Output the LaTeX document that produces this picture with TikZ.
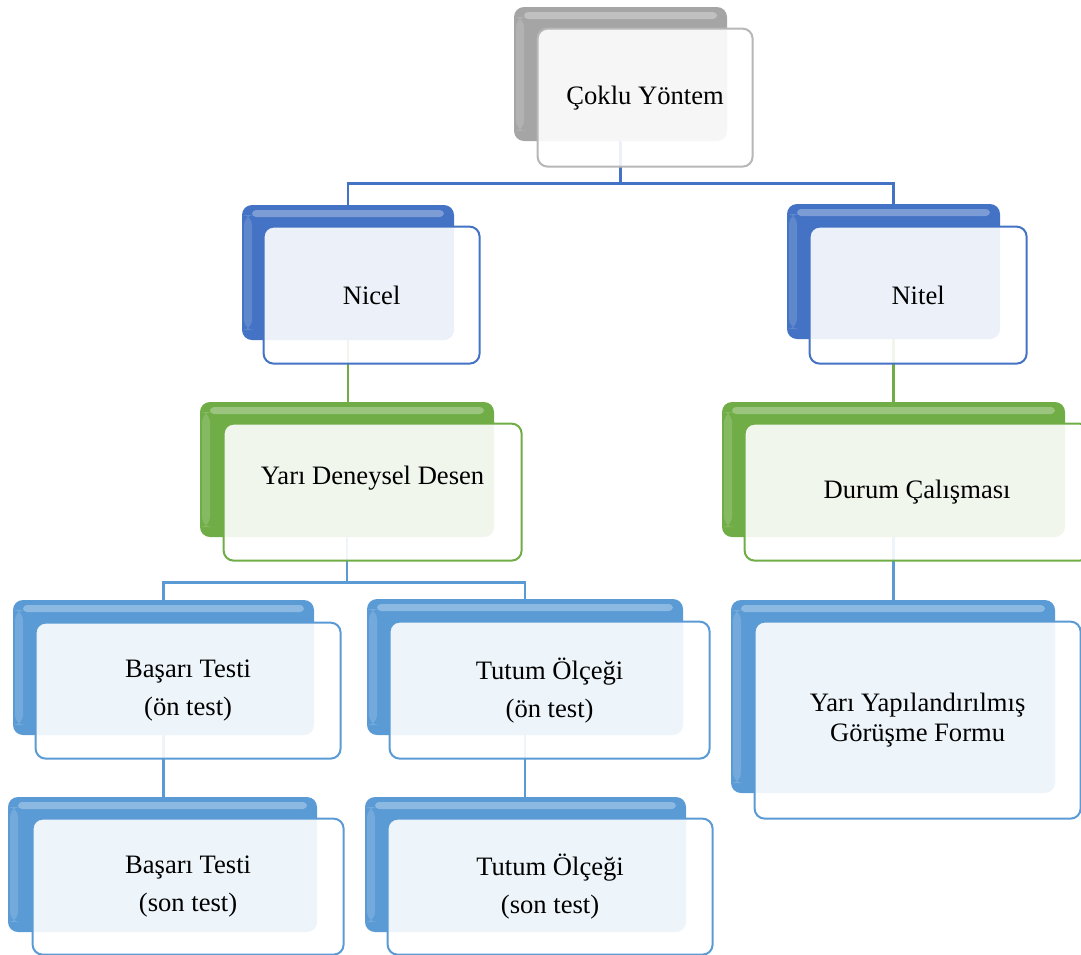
\documentclass[tikz,border=0pt]{standalone}
\usepackage{fontspec}
\setmainfont{Liberation Serif}
\usepackage{tikz}
\definecolor{cgray}{HTML}{A5A5A5}
\definecolor{cblue}{HTML}{4472C4}
\definecolor{cgreen}{HTML}{70AD47}
\definecolor{clblue}{HTML}{5B9BD5}
\pgfdeclarelayer{bg}
\pgfsetlayers{bg,main}

\begin{document}
\begin{tikzpicture}[x=0.5pt,y=-0.5pt,font=\fontsize{13.3pt}{19pt}\selectfont,
   bkbox/.style={rounded corners=5pt,fill=#1,inner sep=0pt,
     path picture={
       \fill[white,opacity=0.3,rounded corners=2pt]
         ([xshift=5pt,yshift=-2.5pt]path picture bounding box.north west)
         rectangle ([xshift=-5pt,yshift=-6pt]path picture bounding box.north east);
       \fill[white,opacity=0.15]
         ([xshift=1pt,yshift=-5pt]path picture bounding box.north west)
         rectangle ([xshift=5pt,yshift=5pt]path picture bounding box.south west);}},
   frbox/.style={rounded corners=5pt,draw=#1,line width=1pt,fill=white,
     fill opacity=0.9,text opacity=1,inner sep=0pt,align=center,anchor=north west},
   conn/.style={draw=#1,line width=1.2pt}]
  \path[use as bounding box,clip] (0,0) rectangle (1081,954);

  % top level
  \node[bkbox=cgray,minimum width=106.5pt,minimum height=67pt] (cokB) at (620.5,74) {};
  \node[frbox=cgray!80,minimum width=107.5pt,minimum height=69pt] (cok)
     at ([shift={(23,21)}]cokB.north west) {Çoklu Yöntem};

  % second level
  \node[bkbox=cblue,minimum width=106pt,minimum height=67.5pt] (nicB) at (348,272.5) {};
  \node[frbox=cblue,minimum width=108pt,minimum height=68.5pt] (nic)
     at ([shift={(21,21)}]nicB.north west) {Nicel};
  \node[bkbox=cblue,minimum width=106.5pt,minimum height=67.5pt] (nitB) at (893.5,271.5) {};
  \node[frbox=cblue,minimum width=108.5pt,minimum height=68.5pt] (nit)
     at ([shift={(22,22)}]nitB.north west) {Nitel};

  % designs
  \node[bkbox=cgreen,minimum width=147pt,minimum height=67.5pt] (yarB) at (347,469.5) {};
  \node[frbox=cgreen,minimum width=149pt,minimum height=68.5pt] (yar)
     at ([shift={(23,21)}]yarB.north west) {\raisebox{7pt}[\height][\depth]{Yarı Deneysel Desen}};
  \node[bkbox=cgreen,minimum width=171.5pt,minimum height=67.5pt] (durB) at (893.5,469.5) {};
  \node[frbox=cgreen,minimum width=172.5pt,minimum height=68.5pt] (dur)
     at ([shift={(22,21)}]durB.north west) {Durum Çalışması};

  % tools
  \node[bkbox=clblue,minimum width=150.5pt,minimum height=67.5pt] (bas1B) at (163.5,667.5) {};
  \node[frbox=clblue,minimum width=152.5pt,minimum height=68pt] (bas1)
     at ([shift={(22,22)}]bas1B.north west) {Başarı Testi\\(ön test)};
  \node[bkbox=clblue,minimum width=158pt,minimum height=68pt] (tut1B) at (525,667) {};
  \node[frbox=clblue,minimum width=160pt,minimum height=68.5pt] (tut1)
     at ([shift={(22,22)}]tut1B.north west) {Tutum Ölçeği\\(ön test)};
  \node[bkbox=clblue,minimum width=154.5pt,minimum height=67.5pt] (bas2B) at (162.5,864.5) {};
  \node[frbox=clblue,minimum width=155.5pt,minimum height=68pt] (bas2)
     at ([shift={(24,21)}]bas2B.north west) {Başarı Testi\\(son test)};
  \node[bkbox=clblue,minimum width=160.5pt,minimum height=67.5pt] (tut2B) at (525.5,864.5) {};
  \node[frbox=clblue,minimum width=162.5pt,minimum height=68pt] (tut2)
     at ([shift={(22,21)}]tut2B.north west) {Tutum Ölçeği\\(son test)};
  \node[bkbox=clblue,minimum width=162pt,minimum height=96.5pt] (ypfB) at (893,696.5) {};
  \node[frbox=clblue,minimum width=163pt,minimum height=98.5pt,
     font=\fontsize{13.3pt}{15pt}\selectfont] (ypf)
     at ([shift={(23,21)}]ypfB.north west) {Yarı Yapılandırılmış\\Görüşme Formu};

  \begin{pgfonlayer}{bg}
    \draw[conn=cblue] (cokB.south) -- ++(0,42) -| (nicB.north);
    \draw[conn=cblue] (cokB.south) -- ++(0,42) -| (nitB.north);
    \draw[conn=cgreen] (nicB.south) -- (nicB.south |- yarB.north);
    \draw[conn=cgreen] (nitB.south) -- (nitB.south |- durB.north);
    \draw[conn=clblue] (yarB.south) -- ++(0,45) -| (bas1B.north);
    \draw[conn=clblue] (yarB.south) -- ++(0,45) -| (tut1B.north);
    \draw[conn=clblue] (bas1B.south) -- (bas1B.south |- bas2B.north);
    \draw[conn=clblue] (tut1B.south) -- (tut1B.south |- tut2B.north);
    \draw[conn=clblue] (durB.south) -- (durB.south |- ypfB.north);
  \end{pgfonlayer}
\end{tikzpicture}
\end{document}
